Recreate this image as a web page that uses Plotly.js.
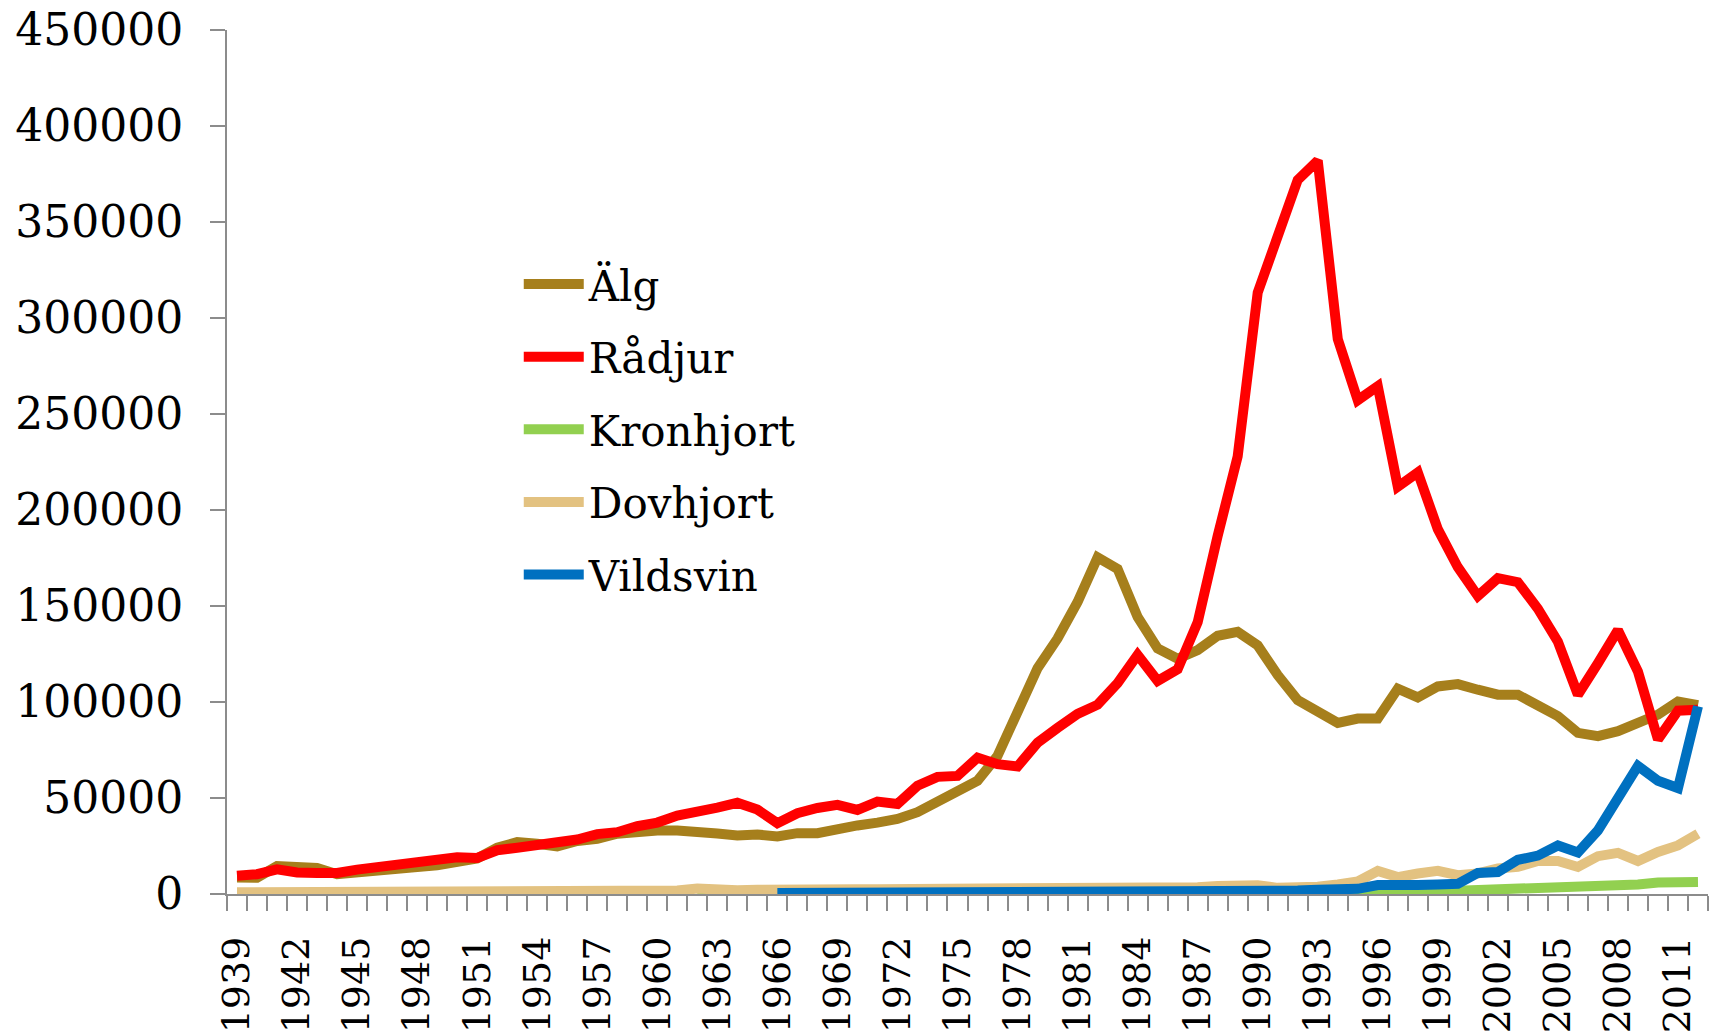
<!DOCTYPE html>
<html lang="sv">
<head>
    <meta charset="UTF-8">
    <title>Avskjutning av klövvilt</title>
    <script src="https://cdn.plot.ly/plotly-3.0.1.min.js"></script>
    <style>
        body { margin: 0; padding: 0; background-color: #ffffff; }
        #plot { width: 1710px; height: 1036px; }
    </style>
</head>
<body>
    <div id="plot"></div>
    <script>
        // Years (categories)
        const years = [1939, 1940, 1941, 1942, 1943, 1944, 1945, 1946, 1947, 1948,
            1949, 1950, 1951, 1952, 1953, 1954, 1955, 1956, 1957, 1958,
            1959, 1960, 1961, 1962, 1963, 1964, 1965, 1966, 1967, 1968,
            1969, 1970, 1971, 1972, 1973, 1974, 1975, 1976, 1977, 1978,
            1979, 1980, 1981, 1982, 1983, 1984, 1985, 1986, 1987, 1988,
            1989, 1990, 1991, 1992, 1993, 1994, 1995, 1996, 1997, 1998,
            1999, 2000, 2001, 2002, 2003, 2004, 2005, 2006, 2007, 2008,
            2009, 2010, 2011, 2012];

        const tickYears = [1939, 1942, 1945, 1948, 1951, 1954, 1957, 1960, 1963, 1966,
            1969, 1972, 1975, 1978, 1981, 1984, 1987, 1990, 1993, 1996,
            1999, 2002, 2005, 2008, 2011];

        const yTicks = [0, 50000, 100000, 150000, 200000, 250000, 300000, 350000, 400000, 450000];

        // Series values, one per year
        const alg = [8600, 8500, 14500, 13600, 13500, 10300, 11000, 11500, 12400, 14100,
            15000, 16700, 18500, 24100, 27000, 26200, 24800, 27600, 28800, 31400,
            32700, 33100, 33100, 31700, 31500, 30500, 31000, 30000, 31700, 31700,
            34000, 35700, 37200, 39100, 42600, 47700, 52900, 59000, 71900, 93400,
            117600, 133100, 152100, 175300, 169300, 144300, 127900, 122500, 127000, 134500,
            136500, 129500, 114000, 101000, 95500, 89100, 91400, 91400, 106900, 102400,
            108100, 109300, 106400, 103800, 103800, 97700, 92600, 83900, 82200, 84800,
            89100, 93400, 100300, 98300];

        const radjur = [9500, 10300, 12800, 11200, 11000, 11000, 12700, 13800, 15500, 16500,
            17600, 19100, 18800, 22800, 24100, 25700, 26200, 28400, 31200, 32200,
            35300, 37200, 40900, 42400, 45000, 47500, 44000, 36900, 42100, 44800,
            46400, 43800, 48100, 46900, 56400, 61000, 61500, 71000, 67600, 66400,
            78800, 86500, 93800, 98600, 109800, 124500, 111000, 117000, 141500, 186500,
            227900, 313200, 342600, 371900, 382000, 289100, 257200, 264500, 212100, 219600,
            190000, 170200, 155200, 164500, 162400, 148600, 131400, 103800, 120200, 137400,
            115900, 80500, 95500, 96000];

        const kronhjort = [null, null, null, null, null, null, null, null, null, null,
            null, null, null, null, null, null, null, null, null, null,
            null, null, null, 300, 300, 350, 350, 400, 400, 450,
            450, 500, 550, 600, 600, 600, 650, 650, 700, 700,
            700, 750, 750, 800, 800, 800, 850, 850, 900, 900,
            950, 950, 1000, 1000, 1000, 1100, 1200, 1400, 1300, 1500,
            1600, 1700, 2000, 2100, 2600, 3000, 3300, 3400, 3500, 3600,
            5000, 6000, 6300, 6300];

        const dovhjort = [900, 900, 900, 900, 900, 900, 900, 900, 900, 900,
            900, 900, 1200, 1200, 1300, 1300, 1400, 1400, 1500, 1500,
            1800, 1800, 1800, 2800, 2000, 2000, 2200, 2500, 2500, 2500,
            2500, 2500, 2500, 2500, 2500, 2600, 2700, 3000, 3000, 3000,
            3000, 3000, 3000, 3000, 3000, 3600, 3500, 3500, 3500, 4200,
            4600, 4500, 3200, 3300, 3800, 5000, 6500, 12000, 8800, 10700,
            12100, 9800, 10700, 13300, 14100, 17200, 17200, 14100, 19700, 21400,
            17200, 21900, 25300, 31400];

        const vildsvin = [null, null, null, null, null, null, null, null, null, null,
            null, null, null, null, null, null, null, null, null, null,
            null, null, null, null, null, null, null, 500, 500, 500,
            500, 500, 500, 500, 500, 500, 500, 700, 700, 700,
            700, 700, 700, 700, 700, 700, 1000, 1000, 1000, 1000,
            1000, 1000, 1200, 1800, 2200, 2400, 2700, 4700, 4100, 4700,
            5000, 5300, 11000, 11400, 17800, 20000, 25300, 21600, 33100, 50300,
            66700, 59000, 55200, 97700];

        const seriesNames = ['Älg', 'Rådjur', 'Kronhjort', 'Dovhjort', 'Vildsvin'];
        const seriesColors = ['#A67F1C', '#FF0000', '#92D050', '#E3C281', '#0070C0'];
        const seriesValues = [alg, radjur, kronhjort, dovhjort, vildsvin];

        const axisGray = '#8C8C8C';
        const fontFamily = '"DejaVu Serif", "Liberation Serif", serif';
        const xRange = [1938.5, 2012.5];

        // tick marks sit between the categories, like the original
        const boundaries = years.map(y => y - 0.5).concat([years[years.length - 1] + 0.5]);

        const data = seriesValues.map((vals, i) => ({
            x: years,
            y: vals,
            type: 'scatter',
            mode: 'lines',
            name: seriesNames[i],
            legendgroup: 'g' + i,
            line: { color: seriesColors[i], width: 10 },
            connectgaps: false,
            hoverinfo: 'skip'
        }));

        // empty trace so the label axis (x2) gets drawn
        data.push({
            x: tickYears,
            y: tickYears.map(() => null),
            xaxis: 'x2',
            yaxis: 'y',
            type: 'scatter',
            mode: 'lines',
            showlegend: false,
            hoverinfo: 'skip'
        });

        const layout = {
            width: 1710,
            height: 1036,
            margin: { l: 227, r: 2, t: 30, b: 142 },
            paper_bgcolor: '#ffffff',
            plot_bgcolor: '#ffffff',
            font: { family: fontFamily, color: '#000000', size: 40 },
            showlegend: true,
            legend: {
                x: 0.197,
                y: 0.745,
                xanchor: 'left',
                yanchor: 'top',
                bgcolor: 'rgba(0,0,0,0)',
                font: { family: fontFamily, size: 42, color: '#000000' },
                itemwidth: 60,
                tracegroupgap: 15,
                traceorder: 'grouped'
            },
            // axis with the tick marks only
            xaxis: {
                range: xRange,
                tickmode: 'array',
                tickvals: boundaries,
                ticktext: boundaries.map(() => ''),
                ticks: 'outside',
                ticklen: 15,
                tickwidth: 2,
                tickcolor: axisGray,
                showline: true,
                linecolor: axisGray,
                linewidth: 2,
                showgrid: false,
                zeroline: false,
                fixedrange: true
            },
            // overlaid axis with the year labels
            xaxis2: {
                overlaying: 'x',
                anchor: 'y',
                side: 'bottom',
                range: xRange,
                tickmode: 'array',
                tickvals: tickYears,
                ticktext: tickYears.map(String),
                tickangle: -90,
                ticks: '',
                ticklabelstandoff: 34,
                tickfont: { family: fontFamily, size: 38, color: '#000000' },
                showline: false,
                showgrid: false,
                zeroline: false,
                fixedrange: true
            },
            yaxis: {
                range: [0, 450000],
                tickmode: 'array',
                tickvals: yTicks,
                ticktext: yTicks.map(String),
                ticks: 'outside',
                ticklen: 15,
                tickwidth: 2,
                tickcolor: axisGray,
                ticklabelstandoff: 18,
                ticklabeloverflow: 'allow',
                tickfont: { family: fontFamily, size: 44, color: '#000000' },
                showline: true,
                linecolor: axisGray,
                linewidth: 2,
                showgrid: false,
                zeroline: false,
                fixedrange: true
            },
            hovermode: false
        };

        Plotly.newPlot('plot', data, layout, { staticPlot: true, displayModeBar: false });
    </script>
</body>
</html>
